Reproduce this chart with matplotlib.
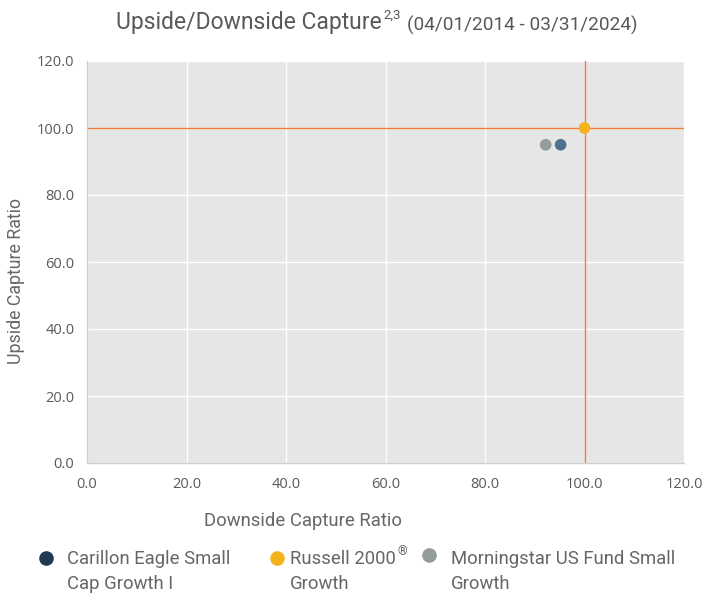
import matplotlib
matplotlib.use("Agg")
import matplotlib.pyplot as plt

series_line1 = ["Carillon Eagle Small", "Russell 2000", "Morningstar US Fund Small"]
series_line2 = ["Cap Growth I", "Growth", "Growth"]
downside = [95.2, 100.0, 92.2]
upside = [95.0, 100.0, 95.0]
point_colors = ["#4d7190", "#f5b21c", "#929c9a"]
legend_colors = ["#1f3a52", "#f5b21c", "#929c9a"]
ticks = [0, 20, 40, 60, 80, 100, 120]
ref_x = 100.0
ref_y = 100.0

W, H = 704, 597
fig = plt.figure(figsize=(W / 100, H / 100), dpi=100)


def px(x, y):
    return x / W, 1 - y / H


ax = fig.add_axes([87 / W, 1 - 463 / H, (684 - 87) / W, (463 - 61) / H])
ax.set_facecolor("#e6e6e6")
ax.set_xlim(0, 120)
ax.set_ylim(0, 120)
ax.set_xticks(ticks)
ax.set_yticks(ticks)
ax.set_xticklabels([f"{t:.1f}" for t in ticks], fontfamily="Open Sans", fontsize=10.5, color="#595959")
ax.set_yticklabels([f"{t:.1f}" for t in ticks], fontfamily="Open Sans", fontsize=10.5, color="#595959")
ax.tick_params(length=0, pad=9)
ax.tick_params(axis="x", pad=10)
ax.grid(True, color="white", linewidth=1.0)
ax.set_axisbelow(True)
for s in ["top", "right"]:
    ax.spines[s].set_visible(False)
for s in ["left", "bottom"]:
    ax.spines[s].set_color("#d0d0d0")
    ax.spines[s].set_linewidth(1.0)

ax.axhline(ref_y, color="#f07c3a", linewidth=1.0, zorder=2)
ax.axvline(ref_x, color="#f07c3a", linewidth=1.0, zorder=2)

for x, y, c in zip(downside, upside, point_colors):
    ax.scatter([x], [y], s=70, color=c, zorder=3, edgecolors="none")

tc = "#595959"
lc = "#666666"
fig.text(*px(303, 521), "Downside Capture Ratio", fontfamily="Roboto", fontsize=13.3, color=lc,
         ha="center", va="center")
fig.text(*px(16, 281), "Upside Capture Ratio", fontfamily="Roboto", fontsize=12.8, color=lc,
         ha="center", va="center", rotation=90)

renderer = fig.canvas.get_renderer()

# title
t1 = fig.text(*px(116, 23), "Upside/Downside Capture", fontfamily="Roboto", fontsize=16.5, color=tc,
              ha="left", va="center")
x_end = t1.get_window_extent(renderer).x1
t2 = fig.text((x_end + 2) / W, 1 - 15 / H, "2,3", fontfamily="Roboto", fontsize=9.5, color=tc,
              ha="left", va="center")
x_end = t2.get_window_extent(renderer).x1
fig.text((x_end + 6) / W, 1 - 25 / H, "(04/01/2014 - 03/31/2024)", fontfamily="Roboto", fontsize=13.7,
         color=tc, ha="left", va="center")

# legend
marker_x = [46, 277, 429]
marker_y = [558, 558, 555]
text_x = [67, 290, 451]
for mx, my, c in zip(marker_x, marker_y, legend_colors):
    fig.add_artist(plt.Line2D([mx / W], [1 - my / H], marker="o", markersize=10.5, markerfacecolor=c,
                              markeredgecolor="none", linestyle="none", transform=fig.transFigure))
line1_texts = []
for tx, l1, l2 in zip(text_x, series_line1, series_line2):
    line1_texts.append(fig.text(*px(tx, 559), l1, fontfamily="Roboto", fontsize=13.3, color=lc,
                                ha="left", va="center"))
    fig.text(*px(tx, 584), l2, fontfamily="Roboto", fontsize=13.3, color=lc, ha="left", va="center")
x_end = line1_texts[1].get_window_extent(renderer).x1
fig.text((x_end + 1.5) / W, 1 - 552 / H, "®", fontfamily="Roboto", fontsize=9, color=lc,
         ha="left", va="center")

fig.savefig("out.png", dpi=100)
